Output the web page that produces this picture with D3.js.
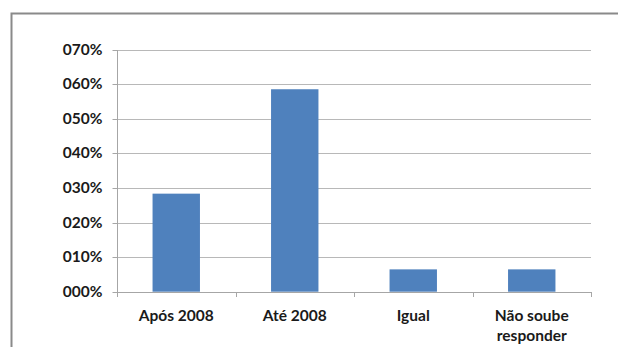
<!DOCTYPE html>
<html><head><meta charset="utf-8">
<script src="https://cdn.jsdelivr.net/npm/d3@7/dist/d3.min.js"></script>
<style>html,body{margin:0;padding:0;background:#fff;}svg{display:block;}</style>
</head><body>
<svg id="c" width="618" height="347"></svg>
<script>
const categories = [["Após 2008"], ["Até 2008"], ["Igual"], ["Não soube", "responder"]];
const values = [0.2836, 0.5856, 0.0646, 0.0646];
const yTicks = [0, 0.1, 0.2, 0.3, 0.4, 0.5, 0.6, 0.7];
const yTickLabels = ["000%", "010%", "020%", "030%", "040%", "050%", "060%", "070%"];

const svg = d3.select("#c");
const W = 618, H = 347;
const mLeft = 117, mRight = 591, mTop = 49.7, mBottom = 291.7;
const font = "Lato, 'Liberation Sans', sans-serif";

// frame
svg.append("path").attr("d", `M11.5,${H} V13.5 H${W}`).attr("fill", "none")
  .attr("stroke", "#8a8a8a").attr("stroke-width", 2);

const x = d3.scaleBand().domain(d3.range(categories.length)).range([mLeft, mRight])
  .paddingInner(0.6).paddingOuter(0.3);
const y = d3.scaleLinear().domain([0, 0.7]).range([mBottom, mTop]);

// gridlines
svg.append("g").selectAll("line").data(yTicks.filter(d => d > 0)).join("line")
  .attr("x1", mLeft).attr("x2", mRight)
  .attr("y1", d => Math.round(y(d)) + 0.5).attr("y2", d => Math.round(y(d)) + 0.5)
  .attr("stroke", "#b8b8b8").attr("stroke-width", 1);

// y axis
const yAxis = d3.axisLeft(y).tickValues(yTicks).tickSize(5).tickPadding(10)
  .tickFormat((d, i) => yTickLabels[i]);
const gy = svg.append("g").attr("transform", `translate(${mLeft + 0.5},0)`).call(yAxis);
gy.select(".domain").attr("stroke", "#a6a6a6").attr("d", `M0,${Math.round(mBottom)} V${Math.round(mTop)}`);
gy.selectAll(".tick line").attr("stroke", "#a6a6a6");
gy.selectAll(".tick").attr("transform", d => `translate(0,${Math.round(y(d)) + 0.5})`);
gy.selectAll(".tick text").attr("font-family", font).attr("font-weight", "bold")
  .attr("font-size", 15.5).attr("fill", "#1a1a1a");

// bars
svg.append("g").selectAll("rect").data(values).join("rect")
  .attr("x", (d, i) => x(i)).attr("width", x.bandwidth())
  .attr("y", d => y(d)).attr("height", d => mBottom - y(d))
  .attr("fill", "#4f81bd");

// x axis line and category boundary ticks
const gx = svg.append("g");
gx.append("line").attr("x1", mLeft).attr("x2", mRight)
  .attr("y1", Math.round(mBottom) + 0.5).attr("y2", Math.round(mBottom) + 0.5)
  .attr("stroke", "#a6a6a6");
const step = x.step();
const bounds = d3.range(categories.length + 1).map(i => x(0) - x.paddingOuter() * step + i * step);
gx.selectAll("line.tk").data(bounds).join("line").attr("class", "tk")
  .attr("x1", d => Math.round(d) + 0.5).attr("x2", d => Math.round(d) + 0.5)
  .attr("y1", Math.round(mBottom)).attr("y2", Math.round(mBottom) + 5)
  .attr("stroke", "#a6a6a6");

// category labels
const lab = svg.append("g").selectAll("text").data(categories).join("text")
  .attr("text-anchor", "middle").attr("font-family", font).attr("font-weight", "bold")
  .attr("font-size", 15.5).attr("fill", "#1a1a1a")
  .attr("transform", (d, i) => `translate(${x(i) + x.bandwidth() / 2},0)`);
lab.selectAll("tspan").data(d => d).join("tspan")
  .attr("x", 0).attr("y", (d, j) => 321 + j * 20).text(d => d);
</script>
</body></html>
